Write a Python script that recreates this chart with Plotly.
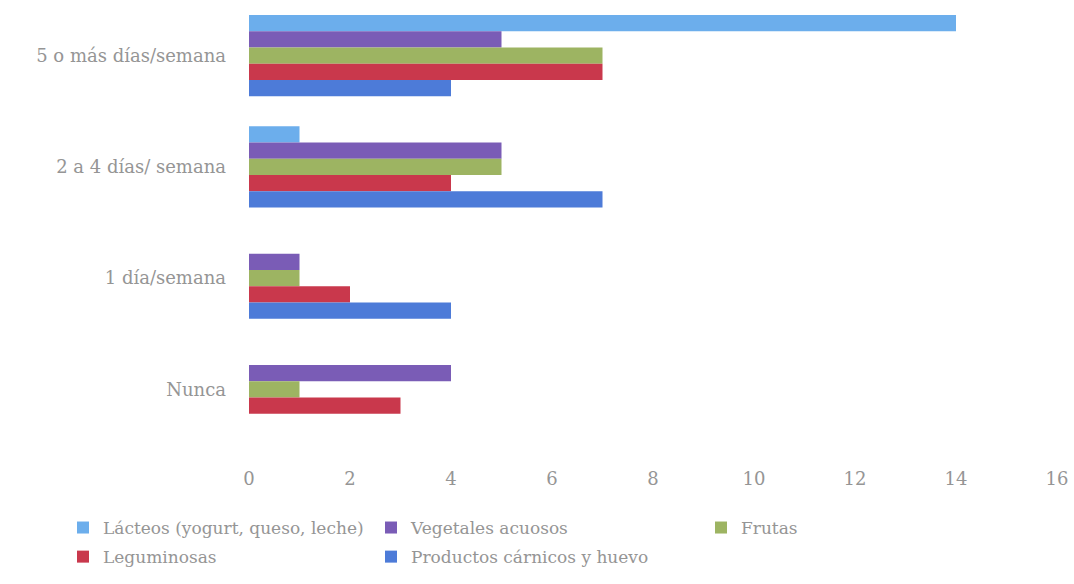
import plotly.graph_objects as go

# Frequency categories (top to bottom)
categories = ["5 o más días/semana", "2 a 4 días/ semana", "1 día/semana", "Nunca"]

# Number of respondents per food group
lacteos = [14, 1, 0, 0]
vegetales = [5, 5, 1, 4]
frutas = [7, 5, 1, 1]
leguminosas = [7, 4, 2, 3]
carnicos = [4, 7, 4, 0]

series_names = [
    "Lácteos (yogurt, queso, leche)",
    "Vegetales acuosos",
    "Frutas",
    "Leguminosas",
    "Productos cárnicos y huevo",
]
series_values = [lacteos, vegetales, frutas, leguminosas, carnicos]
series_colors = ["#6caeec", "#7a5cb6", "#9db462", "#c9384c", "#4d7bd8"]
# legend column each series is listed in
series_legends = ["legend", "legend2", "legend3", "legend", "legend2"]

x_ticks = [0, 2, 4, 6, 8, 10, 12, 14, 16]

text_color = "#959595"
font_family = "DejaVu Serif"

fig = go.Figure()
for name, vals, color, leg in zip(series_names, series_values, series_colors, series_legends):
    fig.add_trace(
        go.Bar(
            y=categories,
            x=vals,
            name=name,
            orientation="h",
            marker=dict(color=color, line=dict(width=0)),
            legend=leg,
            legendgroup=name,
        )
    )

legend_common = dict(
    orientation="v",
    yanchor="top",
    xanchor="left",
    font=dict(family=font_family, size=17, color=text_color),
    bgcolor="rgba(0,0,0,0)",
    tracegroupgap=4,
    itemclick=False,
)

fig.update_layout(
    width=1074,
    height=584,
    margin=dict(l=249, r=17, t=0, b=139),
    paper_bgcolor="white",
    plot_bgcolor="white",
    barmode="group",
    bargap=0.268,
    bargroupgap=0,
    font=dict(family=font_family, size=18, color=text_color),
    xaxis=dict(
        range=[0, 16],
        tickvals=x_ticks,
        showgrid=False,
        zeroline=False,
        showline=False,
        ticks="",
        ticklabelstandoff=21,
        tickfont=dict(family=font_family, size=18, color=text_color),
    ),
    yaxis=dict(
        categoryorder="array",
        categoryarray=categories,
        autorange="reversed",
        showgrid=False,
        zeroline=False,
        showline=False,
        ticks="",
        ticklabelstandoff=22,
        tickfont=dict(family=font_family, size=18, color=text_color),
    ),
    legend=dict(x=(63 - 249) / 808, y=-0.146, **legend_common),
    legend2=dict(x=(371 - 249) / 808, y=-0.146, **legend_common),
    legend3=dict(x=(701 - 249) / 808, y=-0.146, **legend_common),
)

fig.write_html("out.html")
